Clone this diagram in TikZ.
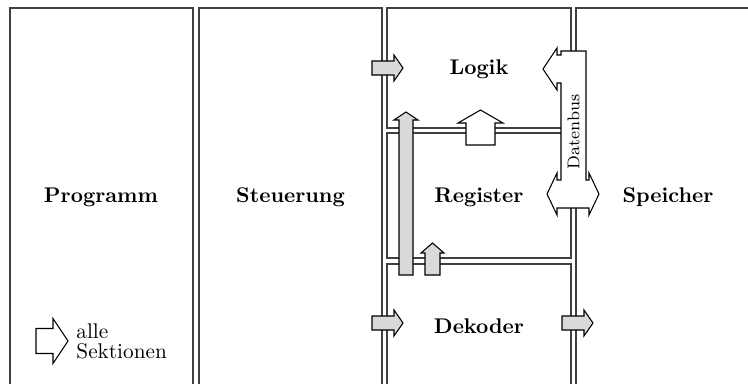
\documentclass[tikz,border=0pt]{standalone}
\usepackage{tikz}
\usetikzlibrary{positioning}
\tikzstyle{section} = [draw=black!75, line width=0.7pt]
\tikzstyle{title} = [font=\bfseries, inner sep=0pt]
\tikzstyle{flow} = [draw=black, fill=black!15, line width=0.5pt, line join=miter]
\tikzstyle{hollow} = [draw=black, fill=white, line width=0.5pt, line join=miter]
% block arrow: style, start, angle, length, body width, head width, head length
\newcommand{\blockpfeil}[7]{%
  \path[#1, shift={#2}, rotate=#3] (0,-#5/2) -- ({#4-#7},-#5/2) -- ({#4-#7},-#6/2)
    -- (#4,0) -- ({#4-#7},#6/2) -- ({#4-#7},#5/2) -- (0,#5/2) -- cycle;}

\begin{document}
\begin{tikzpicture}[x=0.47pt, y=-0.47pt]
    \useasboundingbox (0,0) rectangle (748,383);
    \clip (0,0) rectangle (748,383);

    % sections
    \draw [section] (10,8) rectangle (193,400);
    \draw [section] (199,8) rectangle (382,400);
    \draw [section] (387,8) rectangle (571,128);
    \draw [section] (387,133) rectangle (571,258);
    \draw [section] (387,264) rectangle (571,400);
    \draw [section] (576,8) rectangle (760,400);

    \node [title] (programm) at (101,197) {Programm};
    \node [title] (steuerung) at (290.5,197) {Steuerung};
    \node [title] (logik) at (479,69) {Logik};
    \node [title] (register) at (479,197) {Register};
    \node [title] (dekoder) at (479,326) {Dekoder};
    \node [title] (speicher) at (668,197) {Speicher};

    % data bus
    \draw [hollow] (561,51) -- (586,51) -- (586,180) -- (589,180) -- (589,173)
        -- (599,194) -- (589,215) -- (589,208) -- (557,208) -- (557,215)
        -- (547,194) -- (557,173) -- (557,180) -- (561,180) -- (561,83)
        -- (557,83) -- (557,90) -- (543,69) -- (557,48) -- (557,55)
        -- (561,55) -- cycle;
    \node [rotate=90, font=\footnotesize, inner sep=0pt] (bus) at (573.5,132) {Datenbus};

    % flows
    \blockpfeil{flow}{(372,68)}{0}{31}{14}{26}{9}
    \blockpfeil{flow}{(372,323)}{0}{31}{14}{26}{9}
    \blockpfeil{flow}{(562,323)}{0}{31}{14}{26}{9}
    \blockpfeil{flow}{(406,275)}{90}{163}{14}{24}{8}
    \blockpfeil{flow}{(432.5,275)}{90}{32}{15}{23}{10}
    \blockpfeil{hollow}{(480.5,145)}{90}{35}{29}{45}{13}

    % legend
    \blockpfeil{hollow}{(36,341)}{0}{32}{25}{45}{15}
    \node [anchor=west, align=left, inner sep=0pt] (legende) at (76,341) {alle\\[-2.5pt]Sektionen};
\end{tikzpicture}
\end{document}
